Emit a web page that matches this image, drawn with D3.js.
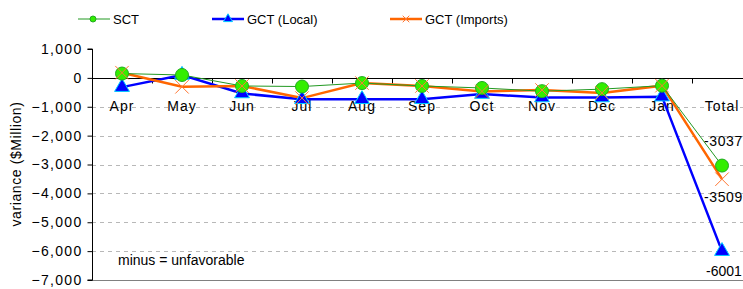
<!DOCTYPE html>
<html>
<head>
<meta charset="utf-8">
<script src="https://cdn.jsdelivr.net/npm/d3@7"></script>
<style>
  body { margin: 0; background: #fff; }
  text { font-family: "Liberation Sans", Arial, sans-serif; }
</style>
</head>
<body>
<script>
var width = 743,
    height = 289

var months = ['Apr', 'May', 'Jun', 'Jul', 'Aug', 'Sep', 'Oct', 'Nov', 'Dec', 'Jan', 'Total']
var sct = [150, 100, -280, -300, -180, -280, -350, -460, -390, -270, -3037]
var gctLocal = [-320, 100, -540, -740, -740, -740, -560, -680, -680, -650, -6001]
var gctImports = [180, -310, -280, -700, -180, -280, -470, -420, -520, -270, -3509]
var yTicks = [1000, 0, -1000, -2000, -3000, -4000, -5000, -6000, -7000]

var margin = {left: 92, top: 49}

var x = d3.scaleBand()
    .domain(months)
    .range([margin.left, margin.left + 660])

var y = d3.scaleLinear()
    .domain([1000, -7000])
    .range([margin.top, 280])

var svg = d3.select('body').append('svg')
    .attr('width', width)
    .attr('height', height)

// dashed grid lines
svg.selectAll('line.grid')
    .data(yTicks.filter(function(d) { return d < 0 && d > -7000 }))
    .enter().append('line')
    .attr('x1', margin.left).attr('x2', width)
    .attr('y1', function(d) { return Math.round(y(d)) + 0.5 })
    .attr('y2', function(d) { return Math.round(y(d)) + 0.5 })
    .style('stroke', '#b8b8b8')
    .style('stroke-dasharray', '4,4')

// bottom border
svg.append('line')
    .attr('x1', margin.left).attr('x2', width)
    .attr('y1', Math.round(y(-7000)) + 0.5).attr('y2', Math.round(y(-7000)) + 0.5)
    .style('stroke', '#808080')

// y axis
var yAxis = d3.axisLeft(y)
    .tickValues(yTicks)
    .tickSize(5)
    .tickFormat(d3.format(','))

var gy = svg.append('g')
    .attr('transform', 'translate(' + (margin.left + 0.5) + ',0)')
    .call(yAxis)
gy.select('.domain').attr('d', 'M-5,' + y(1000) + 'H0V' + y(-7000) + 'H-5')
gy.selectAll('text').style('font-size', '14px').style('letter-spacing', '1.3px')
    .attr('x', -10).style('fill', '#000')

// x axis line at 0
var zy = Math.round(y(0)) + 0.5
svg.append('line')
    .attr('x1', margin.left).attr('x2', width)
    .attr('y1', zy).attr('y2', zy)
    .style('stroke', '#000')

svg.selectAll('line.xtick')
    .data(months.slice(1))
    .enter().append('line')
    .attr('x1', function(d) { return Math.round(x(d)) + 0.5 })
    .attr('x2', function(d) { return Math.round(x(d)) + 0.5 })
    .attr('y1', zy).attr('y2', zy + 5)
    .style('stroke', '#000')

svg.selectAll('text.month')
    .data(months)
    .enter().append('text')
    .attr('x', function(d) { return x(d) + x.bandwidth() / 2 })
    .attr('y', zy + 32)
    .attr('text-anchor', 'middle')
    .style('font-size', '14px')
    .style('letter-spacing', '1px')
    .text(function(d) { return d })

// y title
svg.append('text')
    .attr('transform', 'translate(21,' + 164 + ') rotate(-90)')
    .attr('text-anchor', 'middle')
    .style('font-size', '14px')
    .style('letter-spacing', '0.6px')
    .text('variance ($Million)')

svg.append('text')
    .attr('x', 118).attr('y', 265)
    .style('font-size', '14px')
    .text('minus = unfavorable')

var cx = function(i) { return x(months[i]) + x.bandwidth() / 2 }
var line = d3.line()
    .x(function(d, i) { return cx(i) })
    .y(function(d) { return y(d) })

// series
svg.append('path').datum(gctLocal).attr('d', line)
    .style('fill', 'none').style('stroke', '#0000ff').style('stroke-width', 2.5)
svg.append('path').datum(gctImports).attr('d', line)
    .style('fill', 'none').style('stroke', '#ff6600').style('stroke-width', 2.5)
svg.append('path').datum(sct).attr('d', line)
    .style('fill', 'none').style('stroke', '#229922').style('stroke-width', 1)

var tri = d3.symbol().type(d3.symbolTriangle).size(95)
var cross = d3.symbol().type(d3.symbolX).size(120)

function triangles(g, data, s) {
    g.selectAll(null).data(data).enter().append('path')
        .attr('d', s)
        .attr('transform', function(d, i) { return 'translate(' + cx(i) + ',' + y(d) + ')' })
        .style('fill', '#0000ff').style('stroke', '#00ccff').style('stroke-width', 1)
}
function circles(g, data, r) {
    g.selectAll(null).data(data).enter().append('circle')
        .attr('cx', function(d, i) { return cx(i) })
        .attr('cy', function(d) { return y(d) })
        .attr('r', r)
        .style('fill', '#33ee00').style('stroke', '#22aa22').style('stroke-width', 1)
}
function crosses(g, data, s) {
    g.selectAll(null).data(data).enter().append('path')
        .attr('d', s)
        .attr('transform', function(d, i) { return 'translate(' + cx(i) + ',' + y(d) + ')' })
        .style('fill', 'none').style('stroke', '#ff7733').style('stroke-width', 1)
}

triangles(svg, gctLocal, tri)
circles(svg, sct, 6.5)
crosses(svg, gctImports, cross)

// value labels on totals
var last = months.length - 1
svg.append('text').attr('x', cx(last) - 18).attr('y', y(sct[last]) - 20)
    .style('font-size', '14px').style('letter-spacing', '0.6px').text(sct[last])
svg.append('text').attr('x', cx(last) - 18).attr('y', y(gctImports[last]) + 23)
    .style('font-size', '14px').style('letter-spacing', '0.6px').text(gctImports[last])
svg.append('text').attr('x', cx(last) - 16).attr('y', y(gctLocal[last]) + 25)
    .style('font-size', '14px').text(gctLocal[last])

// legend
var legend = [
    {name: 'SCT', x: 78, kind: 'circle', color: '#229922', w: 1},
    {name: 'GCT (Local)', x: 212, kind: 'tri', color: '#0000ff', w: 2.5},
    {name: 'GCT (Imports)', x: 390, kind: 'cross', color: '#ff6600', w: 2.5}
]
var lg = svg.selectAll('g.legend').data(legend).enter().append('g')
    .attr('transform', function(d) { return 'translate(' + d.x + ',19)' })
lg.append('line').attr('x1', 0).attr('x2', 32)
    .style('stroke', function(d) { return d.color })
    .style('stroke-width', function(d) { return d.w })
lg.each(function(d) {
    var g = d3.select(this)
    if (d.kind === 'circle') g.append('circle').attr('cx', 15).attr('r', 3)
        .style('fill', '#33ee00').style('stroke', '#22aa22')
    if (d.kind === 'tri') g.append('path').attr('d', d3.symbol().type(d3.symbolTriangle).size(35))
        .attr('transform', 'translate(16,0)').style('fill', '#0000ff').style('stroke', '#00ccff')
    if (d.kind === 'cross') g.append('path').attr('d', d3.symbol().type(d3.symbolX).size(30))
        .attr('transform', 'translate(16,0)').style('fill', 'none').style('stroke', '#ff7733')
})
lg.append('text').attr('x', 35).attr('y', 5)
    .style('font-size', '13px').text(function(d) { return d.name })
</script>
</body>
</html>
